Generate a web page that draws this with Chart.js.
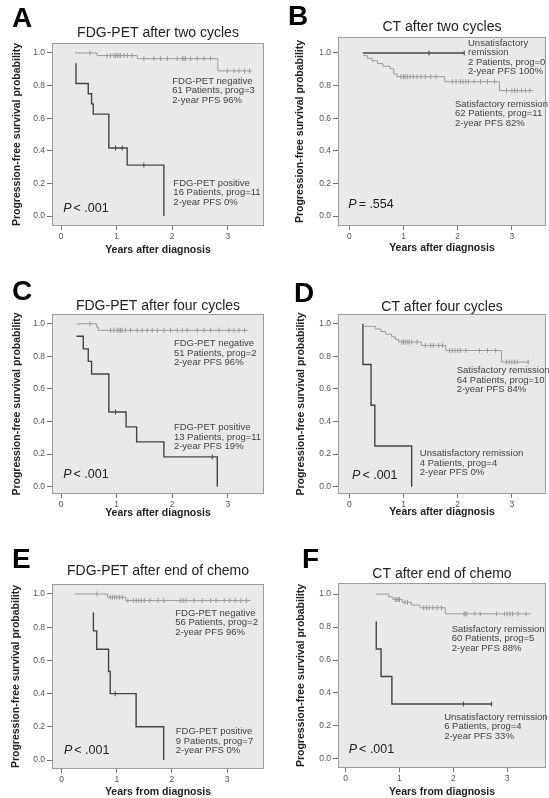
<!DOCTYPE html>
<html>
<head>
<meta charset="utf-8">
<script src="https://cdn.jsdelivr.net/npm/chart.js@4.4.1/dist/chart.umd.min.js"></script>
<style>
  html, body { margin: 0; padding: 0; background: #fff; width: 549px; height: 798px; overflow: hidden; }
  canvas { position: absolute; }
</style>
</head>
<body>
<script>
// axis ticks shared by every panel
const xTicks = [0, 1, 2, 3];
const yTicks = [0, 0.2, 0.4, 0.6, 0.8, 1.0];

// A: FDG-PET after two cycles
const aLightTime = [0.25, 0.65, 1.37, 2.82, 3.43];
const aLightSurv = [1.0, 0.984, 0.965, 0.89, 0.89];
const aLightCens = [0.52, 0.83, 0.89, 0.95, 0.98, 1.01, 1.04, 1.07, 1.13, 1.19, 1.28, 1.49, 1.67, 1.79, 1.91, 2.09, 2.18, 2.21, 2.24, 2.33, 2.45, 2.57, 2.69, 2.99, 3.11, 3.2, 3.3, 3.39];
const aDarkTime = [0.27, 0.27, 0.49, 0.55, 0.58, 0.86, 1.19, 1.85];
const aDarkSurv = [0.9375, 0.8125, 0.75, 0.6875, 0.625, 0.417, 0.3125, 0];
const aDarkCens = [0.98, 1.1, 1.49];

// B: CT after two cycles
const bLightTime = [0.25, 0.33, 0.42, 0.52, 0.62, 0.75, 0.82, 0.88, 1.76, 2.77, 3.4];
const bLightSurv = [0.984, 0.968, 0.952, 0.935, 0.919, 0.903, 0.871, 0.855, 0.824, 0.769, 0.769];
const bLightCens = [0.95, 1.0, 1.03, 1.07, 1.12, 1.18, 1.25, 1.32, 1.4, 1.5, 1.6, 1.9, 1.97, 2.05, 2.1, 2.15, 2.2, 2.3, 2.42, 2.55, 2.68, 2.9, 3.0, 3.05, 3.1, 3.18, 3.25, 3.33];
const bDarkTime = [0.25, 2.12];
const bDarkSurv = [1.0, 1.0];
const bDarkCens = [1.47, 2.12];

// C: FDG-PET after four cycles
const cLightTime = [0.28, 0.64, 0.67, 3.36];
const cLightSurv = [1.0, 0.98, 0.96, 0.96];
const cLightCens = [0.52, 0.89, 0.95, 1.01, 1.04, 1.07, 1.1, 1.16, 1.25, 1.37, 1.46, 1.55, 1.64, 1.73, 1.85, 1.97, 2.09, 2.18, 2.27, 2.45, 2.57, 2.69, 2.84, 3.02, 3.11, 3.2, 3.3];
const cDarkTime = [0.28, 0.4, 0.49, 0.55, 0.86, 1.17, 1.36, 1.85, 2.81];
const cDarkSurv = [0.923, 0.846, 0.769, 0.692, 0.458, 0.367, 0.275, 0.183, 0];
const cDarkCens = [0.98, 2.72];

// D: CT after four cycles
const dLightTime = [0.25, 0.48, 0.58, 0.67, 0.78, 0.85, 0.91, 1.33, 1.78, 2.81, 3.32];
const dLightSurv = [0.984, 0.968, 0.952, 0.936, 0.92, 0.904, 0.888, 0.867, 0.836, 0.765, 0.765];
const dLightCens = [0.97, 1.0, 1.03, 1.07, 1.1, 1.15, 1.25, 1.4, 1.5, 1.55, 1.65, 1.72, 1.85, 1.9, 1.95, 2.0, 2.05, 2.15, 2.4, 2.55, 2.7, 2.9, 2.95, 3.0, 3.05, 3.1, 3.3];
const dDarkTime = [0.25, 0.25, 0.4, 0.47, 1.15];
const dDarkSurv = [1.0, 0.75, 0.5, 0.25, 0];
const dDarkCens = [];

// E: FDG-PET after end of chemo
const eLightTime = [0.24, 0.83, 1.16, 3.42];
const eLightSurv = [1.0, 0.98, 0.96, 0.96];
const eLightCens = [0.64, 0.88, 0.92, 0.96, 1.0, 1.05, 1.1, 1.2, 1.3, 1.35, 1.4, 1.45, 1.5, 1.6, 1.75, 1.85, 2.15, 2.2, 2.25, 2.4, 2.55, 2.7, 2.8, 2.95, 3.05, 3.15, 3.25, 3.35];
const eDarkTime = [0.575, 0.575, 0.635, 0.85, 0.88, 1.35, 1.85];
const eDarkSurv = [0.889, 0.778, 0.667, 0.533, 0.4, 0.2, 0];
const eDarkCens = [0.97];

// F: CT after end of chemo
const fLightTime = [0.56, 0.8, 0.88, 1.05, 1.22, 1.38, 1.85, 3.43];
const fLightSurv = [1.0, 0.983, 0.967, 0.95, 0.933, 0.917, 0.88, 0.88];
const fLightCens = [0.92, 0.95, 0.98, 1.0, 1.1, 1.15, 1.45, 1.5, 1.55, 1.62, 1.7, 1.78, 2.2, 2.22, 2.25, 2.4, 2.5, 2.8, 2.95, 3.0, 3.05, 3.1, 3.2, 3.35];
const fDarkTime = [0.57, 0.57, 0.66, 0.86, 2.71];
const fDarkSurv = [0.833, 0.667, 0.5, 0.333, 0.333];
const fDarkCens = [2.19, 2.71];

const yTitle = "Progression-free survival probability";
const FONT = '"Liberation Sans", Arial, sans-serif';
const LIGHT = "#9a9a9a";
const DARK = "#454545";

// survival value of a curve at time t (for censor ticks)
function survAt(time, surv, t) {
  let v = surv[0];
  for (let i = 0; i < time.length; i++) if (time[i] <= t) v = surv[i];
  return v;
}

const panels = [
  {
    letter: "A", title: "FDG-PET after two cycles", xTitle: "Years after diagnosis",
    left: 0, top: 0, w: 275, h: 262, padTop: 43, padRight: 11, yw: 52, xh: 36,
    xr: [-0.162, 3.65], yr: [-0.061, 1.061], yTitlePad: 11, xTitlePad: 6,
    letterAt: [12, 27], titleY: 33,
    light: [aLightTime, aLightSurv, aLightCens], dark: [aDarkTime, aDarkSurv, aDarkCens],
    notes: [
      { lines: ["FDG-PET negative", "61 Patients, prog=3", "2-year PFS 96%"], x: 2.0, y: 0.827 },
      { lines: ["FDG-PET positive", "16 Patients, prog=11", "2-year PFS 0%"], x: 2.02, y: 0.203 },
    ],
    p: ["P", "< .001"], pAt: [0.04, 0.045],
  },
  {
    letter: "B", title: "CT after two cycles", xTitle: "Years after diagnosis",
    left: 275, top: 0, w: 276, h: 262, padTop: 37, padRight: 0, yw: 63, xh: 36,
    xr: [-0.21, 3.63], yr: [-0.061, 1.098], yTitlePad: 19, xTitlePad: 8,
    letterAt: [13, 25], titleY: 27,
    light: [bLightTime, bLightSurv, bLightCens], dark: [bDarkTime, bDarkSurv, bDarkCens],
    notes: [
      { lines: ["Unsatisfactory", "remission", "2 Patients, prog=0", "2-year PFS 100%"], x: 2.19, y: 1.06 },
      { lines: ["Satisfactory remission", "62 Patients, prog=11", "2-year PFS 82%"], x: 1.95, y: 0.687 },
    ],
    p: ["P", "= .554"], pAt: [-0.02, 0.07],
  },
  {
    letter: "C", title: "FDG-PET after four cycles", xTitle: "Years after diagnosis",
    left: 0, top: 262, w: 275, h: 268, padTop: 52, padRight: 11, yw: 52, xh: 36,
    xr: [-0.162, 3.65], yr: [-0.045, 1.06], yTitlePad: 11, xTitlePad: 11,
    letterAt: [12, 38], titleY: 44,
    light: [cLightTime, cLightSurv, cLightCens], dark: [cDarkTime, cDarkSurv, cDarkCens],
    notes: [
      { lines: ["FDG-PET negative", "51 Patients, prog=2", "2-year PFS 96%"], x: 2.03, y: 0.878 },
      { lines: ["FDG-PET positive", "13 Patients, prog=11", "2-year PFS 19%"], x: 2.03, y: 0.362 },
    ],
    p: ["P", "< .001"], pAt: [0.04, 0.075],
  },
  {
    letter: "D", title: "CT after four cycles", xTitle: "Years after diagnosis",
    left: 275, top: 262, w: 276, h: 268, padTop: 52, padRight: 0, yw: 63, xh: 36,
    xr: [-0.21, 3.63], yr: [-0.045, 1.06], yTitlePad: 20, xTitlePad: 12,
    letterAt: [19, 40], titleY: 45,
    light: [dLightTime, dLightSurv, dLightCens], dark: [dDarkTime, dDarkSurv, dDarkCens],
    notes: [
      { lines: ["Satisfactory remission", "64 Patients, prog=10", "2-year PFS 84%"], x: 1.98, y: 0.711 },
      { lines: ["Unsatisfactory remission", "4 Patients, prog=4", "2-year PFS 0%"], x: 1.3, y: 0.203 },
    ],
    p: ["P", "< .001"], pAt: [0.05, 0.067],
  },
  {
    letter: "E", title: "FDG-PET after end of chemo", xTitle: "Years from diagnosis",
    left: 0, top: 530, w: 275, h: 268, padTop: 54, padRight: 11, yw: 52, xh: 29,
    xr: [-0.176, 3.67], yr: [-0.054, 1.06], yTitlePad: 10, xTitlePad: 0,
    letterAt: [12, 38], titleY: 41,
    light: [eLightTime, eLightSurv, eLightCens], dark: [eDarkTime, eDarkSurv, eDarkCens],
    notes: [
      { lines: ["FDG-PET negative", "56 Patients, prog=2", "2-year PFS 96%"], x: 2.06, y: 0.884 },
      { lines: ["FDG-PET positive", "9 Patients, prog=7", "2-year PFS 0%"], x: 2.07, y: 0.171 },
    ],
    p: ["P", "< .001"], pAt: [0.04, 0.06],
  },
  {
    letter: "F", title: "CT after end of chemo", xTitle: "Years from diagnosis",
    left: 275, top: 530, w: 276, h: 268, padTop: 53, padRight: 0, yw: 63, xh: 30,
    xr: [-0.14, 3.72], yr: [-0.055, 1.067], yTitlePad: 20, xTitlePad: 0,
    letterAt: [27, 38], titleY: 44,
    light: [fLightTime, fLightSurv, fLightCens], dark: [fDarkTime, fDarkSurv, fDarkCens],
    notes: [
      { lines: ["Satisfactory remission", "60 Patients, prog=5", "2-year PFS 88%"], x: 1.97, y: 0.786 },
      { lines: ["Unsatisfactory remission", "6 Patients, prog=4", "2-year PFS 33%"], x: 1.83, y: 0.253 },
    ],
    p: ["P", "< .001"], pAt: [0.06, 0.059],
  },
];

function makeDecor(pn) {
  return {
    id: "decor" + pn.letter,
    beforeDatasetsDraw(chart) {
      const { ctx, chartArea: a } = chart;
      ctx.save();
      ctx.fillStyle = "#e9e9e9";
      ctx.fillRect(a.left, a.top, a.right - a.left, a.bottom - a.top);
      ctx.strokeStyle = "#9c9c9c";
      ctx.lineWidth = 1;
      ctx.strokeRect(a.left + 0.5, a.top + 0.5, a.right - a.left - 1, a.bottom - a.top - 1);
      ctx.restore();
    },
    afterDraw(chart) {
      const { ctx, chartArea: a, scales } = chart;
      const x = scales.x, y = scales.y;
      ctx.save();
      ctx.textBaseline = "alphabetic";
      ctx.textAlign = "left";
      ctx.fillStyle = "#000";
      ctx.font = "bold 28px " + FONT;
      ctx.fillText(pn.letter, pn.letterAt[0], pn.letterAt[1]);

      ctx.fillStyle = "#222";
      ctx.font = "14px " + FONT;
      ctx.textAlign = "center";
      ctx.textBaseline = "middle";
      ctx.fillText(pn.title, (a.left + a.right) / 2, pn.titleY);

      ctx.textAlign = "left";
      ctx.fillStyle = "#444";
      ctx.font = "9.5px " + FONT;
      pn.notes.forEach((n) => {
        n.lines.forEach((t, i) => {
          ctx.fillText(t, x.getPixelForValue(n.x), y.getPixelForValue(n.y) + i * 9.5);
        });
      });

      const px = x.getPixelForValue(pn.pAt[0]);
      const py = y.getPixelForValue(pn.pAt[1]);
      ctx.fillStyle = "#222";
      ctx.font = "italic 12.5px " + FONT;
      ctx.fillText(pn.p[0], px, py);
      const w = ctx.measureText(pn.p[0]).width;
      ctx.font = "12.5px " + FONT;
      ctx.fillText(pn.p[1], px + w + 2, py);
      ctx.restore();
    },
  };
}

function curve(group, color, width) {
  return {
    data: group[0].map((t, i) => ({ x: t, y: group[1][i] })),
    borderColor: color,
    borderWidth: width,
    stepped: true,
    pointRadius: 0,
    fill: false,
  };
}

function censors(group, color) {
  return {
    data: group[2].map((t) => ({ x: t, y: survAt(group[0], group[1], t) })),
    showLine: false,
    borderColor: color,
    backgroundColor: color,
    borderWidth: 1,
    pointStyle: "line",
    rotation: 90,
    pointRadius: 2.5,
  };
}

panels.forEach((pn) => {
  const canvas = document.createElement("canvas");
  canvas.width = pn.w;
  canvas.height = pn.h;
  canvas.style.left = pn.left + "px";
  canvas.style.top = pn.top + "px";
  canvas.style.width = pn.w + "px";
  canvas.style.height = pn.h + "px";
  document.body.appendChild(canvas);

  new Chart(canvas.getContext("2d"), {
    type: "line",
    data: {
      datasets: [
        curve(pn.light, LIGHT, 1),
        censors(pn.light, LIGHT),
        curve(pn.dark, DARK, 1.4),
        censors(pn.dark, DARK),
      ],
    },
    options: {
      responsive: false,
      animation: false,
      events: [],
      devicePixelRatio: 1,
      layout: { padding: { top: pn.padTop, right: pn.padRight, left: 0, bottom: 0 } },
      plugins: { legend: { display: false }, tooltip: { enabled: false }, title: { display: false } },
      scales: {
        x: {
          type: "linear",
          min: pn.xr[0],
          max: pn.xr[1],
          afterFit: (s) => { s.height = pn.xh; },
          afterBuildTicks: (s) => { s.ticks = xTicks.map((v) => ({ value: v })); },
          grid: { drawOnChartArea: false, tickLength: 4, color: "#777" },
          border: { display: false },
          ticks: { font: { size: 8.5, family: FONT }, color: "#555", padding: 2, callback: (v) => String(v) },
          title: {
            display: true, text: pn.xTitle, color: "#222",
            font: { size: 10.5, weight: "bold", family: FONT },
            padding: { top: 0, bottom: pn.xTitlePad },
          },
        },
        y: {
          type: "linear",
          min: pn.yr[0],
          max: pn.yr[1],
          afterFit: (s) => { s.width = pn.yw; },
          afterBuildTicks: (s) => { s.ticks = yTicks.map((v) => ({ value: v })); },
          grid: { drawOnChartArea: false, tickLength: 5, color: "#777" },
          border: { display: false },
          ticks: { font: { size: 8.5, family: FONT }, color: "#555", padding: 2, callback: (v) => v.toFixed(1) },
          title: {
            display: true, text: yTitle, color: "#222",
            font: { size: 10.5, weight: "bold", family: FONT },
            padding: { top: pn.yTitlePad, bottom: 0 },
          },
        },
      },
    },
    plugins: [makeDecor(pn)],
  });
});
</script>
</body>
</html>
